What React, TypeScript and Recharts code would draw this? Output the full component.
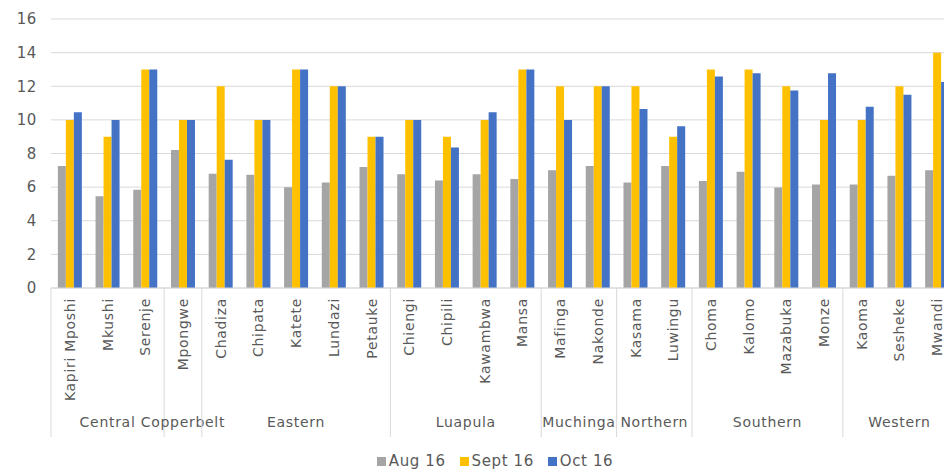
import { BarChart, Bar, XAxis, YAxis, CartesianGrid, Legend } from 'recharts'

const DISTRICTS = [
  'Kapiri Mposhi', 'Mkushi', 'Serenje', 'Mpongwe', 'Chadiza', 'Chipata', 'Katete', 'Lundazi',
  'Petauke', 'Chiengi', 'Chipili', 'Kawambwa', 'Mansa', 'Mafinga', 'Nakonde', 'Kasama',
  'Luwingu', 'Choma', 'Kalomo', 'Mazabuka', 'Monze', 'Kaoma', 'Sesheke', 'Mwandi',
]
const PROVINCES = [
  'Central', 'Central', 'Central', 'Copperbelt', 'Eastern', 'Eastern', 'Eastern', 'Eastern',
  'Eastern', 'Luapula', 'Luapula', 'Luapula', 'Luapula', 'Muchinga', 'Muchinga', 'Northern',
  'Northern', 'Southern', 'Southern', 'Southern', 'Southern', 'Western', 'Western', 'Western',
]
const AUG_16 = [7.26, 5.45, 5.85, 8.21, 6.8, 6.74, 6.0, 6.28, 7.2, 6.76, 6.4, 6.76, 6.48, 7.0, 7.26, 6.28, 7.26, 6.36, 6.92, 5.98, 6.16, 6.16, 6.68, 7.0]
const SEPT_16 = [10, 9, 13, 10, 12, 10, 13, 12, 9, 10, 9, 10, 13, 12, 12, 12, 9, 13, 13, 12, 10, 10, 12, 14]
const OCT_16 = [10.46, 10, 13, 10, 7.63, 10, 13, 12, 9, 10, 8.35, 10.46, 13, 10, 12, 10.64, 9.62, 12.58, 12.78, 11.75, 12.78, 10.78, 11.49, 12.25]
const SERIES_NAMES = ['Aug 16', 'Sept 16', 'Oct 16']
const Y_TICKS = [0, 2, 4, 6, 8, 10, 12, 14, 16]

const data = DISTRICTS.map((d, i) => ({
  district: d,
  province: PROVINCES[i],
  aug: AUG_16[i],
  sept: SEPT_16[i],
  oct: OCT_16[i],
}))

// layout (chart is wider than the page and gets cropped on the right, like the original)
const CHART_W = 990
const CHART_H = 472
const Y_AXIS_W = 51
const MARGIN_R = 34
const X_AXIS_H = 149
const BAND = (CHART_W - Y_AXIS_W - MARGIN_R) / DISTRICTS.length
const FONT = "Verdana, 'DejaVu Sans', sans-serif"
const TEXT = '#595959'
const LINE = '#D9D9D9'

function DistrictTick(props: any) {
  const { x, y, payload, index } = props
  const axisY = y - 8
  const prov = PROVINCES[index]
  const first = index === 0 || PROVINCES[index - 1] !== prov
  let span = 0
  if (first) {
    for (let j = index; j < PROVINCES.length && PROVINCES[j] === prov; j++) span++
  }
  const left = x - BAND / 2
  return (
    <g>
      <text
        x={x}
        y={axisY + 10}
        transform={`rotate(-90 ${x} ${axisY + 10})`}
        textAnchor="end"
        dy="0.36em"
        fill={TEXT}
        fontSize={14}
        fontFamily={FONT}
        style={{ letterSpacing: '0.7px' }}
      >
        {payload.value}
      </text>
      {first && <line x1={left} x2={left} y1={axisY} y2={axisY + X_AXIS_H} stroke={LINE} />}
      {first && (
        <text
          x={left + (span * BAND) / 2}
          y={axisY + 139}
          textAnchor="middle"
          fill={TEXT}
          fontSize={14}
          fontFamily={FONT}
          style={{ letterSpacing: '0.7px' }}
        >
          {prov}
        </text>
      )}
    </g>
  )
}

function LegendContent(props: any) {
  const items = [...(props.payload || [])].sort(
    (a: any, b: any) => SERIES_NAMES.indexOf(a.value) - SERIES_NAMES.indexOf(b.value),
  )
  return (
    <div style={{ display: 'flex', justifyContent: 'center', height: 22, alignItems: 'center' }}>
      {items.map((it: any) => (
        <div key={it.value} style={{ display: 'flex', alignItems: 'center', margin: '0 7px' }}>
          <span style={{ width: 9, height: 9, background: it.color, marginRight: 3 }} />
          <span style={{ color: TEXT, fontSize: 15, lineHeight: '18px', fontFamily: FONT, letterSpacing: '0.6px' }}>{it.value}</span>
        </div>
      ))}
    </div>
  )
}

export default function App() {
  return (
    <div style={{ position: 'absolute', left: 0, top: 0, width: 944, height: 472, overflow: 'hidden', background: '#fff' }}>
      <BarChart
        width={CHART_W}
        height={CHART_H}
        data={data}
        margin={{ top: 19, right: MARGIN_R, bottom: 13, left: 0 }}
        barCategoryGap={6.85}
        barGap={0}
      >
        <CartesianGrid vertical={false} stroke={LINE} />
        <XAxis
          dataKey="district"
          interval={0}
          height={X_AXIS_H}
          tickLine={false}
          axisLine={{ stroke: LINE }}
          tick={<DistrictTick />}
        />
        <YAxis
          width={Y_AXIS_W}
          domain={[0, 16]}
          ticks={Y_TICKS}
          axisLine={false}
          tickLine={false}
          tickMargin={8}
          tick={{ fill: TEXT, fontSize: 15, fontFamily: FONT, letterSpacing: '0.6px' }}
        />
        <Legend
          verticalAlign="bottom"
          content={<LegendContent />}
          wrapperStyle={{ left: 0, width: CHART_W, bottom: 0 }}
        />
        <Bar dataKey="aug" name={SERIES_NAMES[0]} fill="#A5A5A5" isAnimationActive={false} />
        <Bar dataKey="sept" name={SERIES_NAMES[1]} fill="#FFC000" isAnimationActive={false} />
        <Bar dataKey="oct" name={SERIES_NAMES[2]} fill="#4472C4" isAnimationActive={false} />
      </BarChart>
    </div>
  )
}
